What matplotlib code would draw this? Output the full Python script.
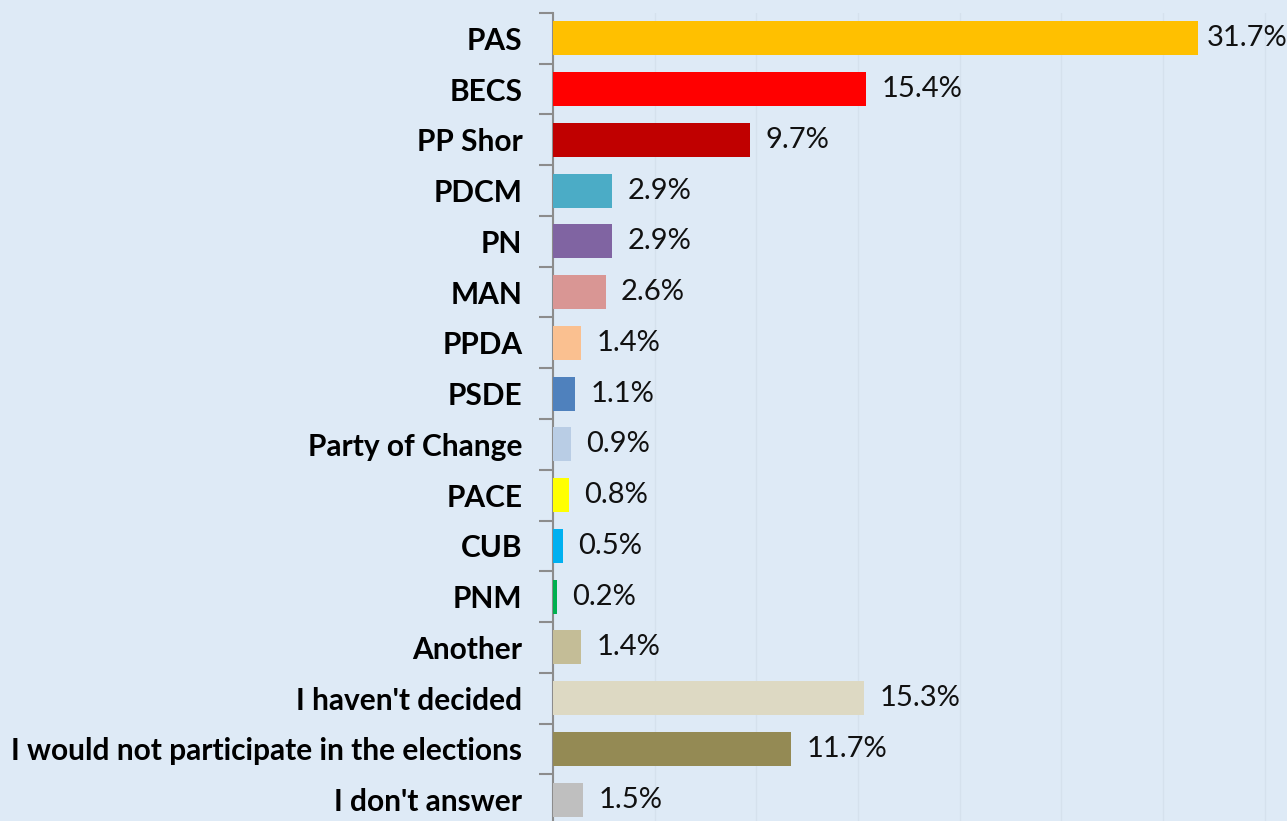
import matplotlib
matplotlib.use('Agg')
import matplotlib.pyplot as plt
from matplotlib.ticker import MultipleLocator, FixedLocator

parties = ['PAS', 'BECS', 'PP Shor', 'PDCM', 'PN', 'MAN', 'PPDA', 'PSDE',
           'Party of Change', 'PACE', 'CUB', 'PNM', 'Another',
           "I haven't decided", 'I would not participate in the elections',
           "I don't answer"]
shares = [31.7, 15.4, 9.7, 2.9, 2.9, 2.6, 1.4, 1.1, 0.9, 0.8, 0.5, 0.2,
          1.4, 15.3, 11.7, 1.5]
bar_colors = ['#FFC000', '#FF0000', '#C00000', '#4BACC6', '#8064A2', '#D99694',
              '#FAC090', '#4F81BD', '#B9CDE5', '#FFFF00', '#00B0F0', '#00B050',
              '#C4BD97', '#DDD9C3', '#948A54', '#BFBFBF']

bg = '#DEEAF6'
plt.rcParams['font.family'] = ['Lato', 'DejaVu Sans']

fig = plt.figure(figsize=(12.87, 8.21), dpi=100, facecolor=bg)
# plot area runs a few px past the bottom edge, like the original
ax = fig.add_axes([553 / 1287, -4 / 821, 1 - 553 / 1287, 1 - 13 / 821 + 4 / 821])
ax.set_facecolor(bg)

xmax = 36.1
ypos = list(range(len(parties)))
ax.barh(ypos, shares, height=0.67, color=bar_colors, zorder=3)

# value labels; the widest one is nudged in so it stays inside the figure
for y, v in zip(ypos, shares):
    lx = min(v + 0.75, xmax - 3.95)
    ax.text(lx, y, f'{v:.1f}%', va='center', ha='left',
            fontsize=21, color='#111111', zorder=4)

ax.set_xlim(0, xmax)
ax.set_ylim(len(parties) - 0.5, -0.5)
ax.xaxis.set_major_locator(MultipleLocator(5))
ax.grid(axis='x', color='#D5E1ED', linewidth=1, zorder=0)
ax.tick_params(axis='x', which='both', length=0, labelbottom=False)

ax.set_yticks(ypos)
ax.set_yticklabels(parties, fontsize=21.5, fontweight='bold')
ax.yaxis.set_minor_locator(FixedLocator([i - 0.5 for i in range(len(parties) + 1)]))
ax.tick_params(axis='y', which='major', length=0, pad=22)
ax.tick_params(axis='y', which='minor', length=10, width=1.5, color='#8C8C8C')

for side in ['top', 'right', 'bottom']:
    ax.spines[side].set_visible(False)
ax.spines['left'].set_color('#8C8C8C')
ax.spines['left'].set_linewidth(1.5)

fig.savefig('out.png', dpi=100, facecolor=bg)
